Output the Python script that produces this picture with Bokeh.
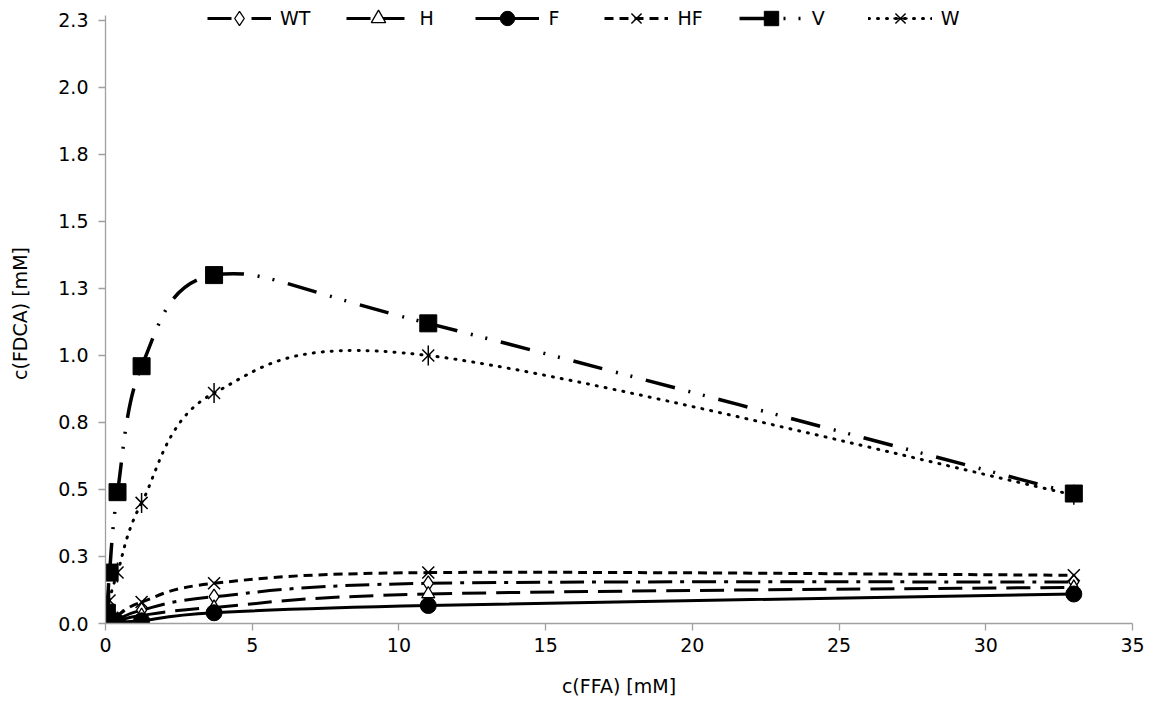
import math
from bokeh.plotting import figure
from bokeh.models import Range1d, Legend, LegendItem, FixedTicker, CustomJSTickFormatter
from bokeh.embed import file_html
from bokeh.resources import INLINE

# ---- data ----
ffa = [0.046, 0.137, 0.41, 1.23, 3.7, 11.0, 33.0]
wt = [0.0, 0.005, 0.015, 0.05, 0.10, 0.15, 0.155]
h = [0.0, 0.003, 0.01, 0.03, 0.06, 0.11, 0.135]
f = [0.0, 0.002, 0.005, 0.01, 0.04, 0.067, 0.11]
hf = [0.0, 0.01, 0.03, 0.08, 0.15, 0.19, 0.18]
v = [0.04, 0.19, 0.49, 0.96, 1.30, 1.12, 0.485]
w = [0.0, 0.086, 0.19, 0.45, 0.86, 1.00, 0.48]

series_names = ["WT", "H", "F", "HF", "V", "W"]
x_ticks = [0, 5, 10, 15, 20, 25, 30, 35]
y_ticks = [0.0, 0.25, 0.5, 0.75, 1.0, 1.25, 1.5, 1.75, 2.0, 2.25]
y_tick_labels = ["0.0", "0.3", "0.5", "0.8", "1.0", "1.3", "1.5", "1.8", "2.0", "2.3"]

FONT = "DejaVu Sans"
AXIS_COLOR = "#a0a0a0"


def bezier_data(xs, ys):
    """Control points of a smoothed (Catmull-Rom style) path through the data points."""
    n = len(xs)
    d = dict(x0=[], y0=[], x1=[], y1=[], cx0=[], cy0=[], cx1=[], cy1=[])
    for i in range(n - 1):
        im = i - 1 if i > 0 else i
        ip = i + 2 if i + 2 < n else i + 1
        d["x0"].append(xs[i]); d["y0"].append(ys[i])
        d["x1"].append(xs[i + 1]); d["y1"].append(ys[i + 1])
        d["cx0"].append(xs[i] + (xs[i + 1] - xs[im]) / 6.0)
        d["cy0"].append(ys[i] + (ys[i + 1] - ys[im]) / 6.0)
        d["cx1"].append(xs[i + 1] - (xs[ip] - xs[i]) / 6.0)
        d["cy1"].append(ys[i + 1] - (ys[ip] - ys[i]) / 6.0)
    return d


# frame: 620 px tall, 268 px per unit -> top of the range a little above 2.25 (room for legend)
p = figure(width=1145, height=703,
           x_range=Range1d(0, 35), y_range=Range1d(0, 2.3134),
           output_backend="svg", toolbar_location=None,
           min_border_left=105, min_border_right=13,
           min_border_top=3, min_border_bottom=80)
p.outline_line_color = None
p.grid.visible = False
p.background_fill_color = "white"

# axes
for ax in (p.xaxis[0], p.yaxis[0]):
    ax.axis_line_color = AXIS_COLOR
    ax.axis_line_width = 1.3
    ax.major_tick_line_color = AXIS_COLOR
    ax.major_tick_line_width = 1.3
    ax.major_tick_out = 7
    ax.major_tick_in = 0
    ax.minor_tick_line_color = None
    ax.major_label_text_font = FONT
    ax.major_label_text_font_size = "19px"
    ax.major_label_text_color = "#000000"
    ax.axis_label_text_font = FONT
    ax.axis_label_text_font_size = "19px"
    ax.axis_label_text_font_style = "normal"
    ax.axis_label_text_color = "#000000"

p.xaxis.ticker = FixedTicker(ticks=x_ticks)
p.xaxis.major_label_standoff = 7
p.xaxis.axis_label = "c(FFA) [mM]"
p.xaxis.axis_label_standoff = 20

p.yaxis.bounds = (0, 2.27)
p.yaxis.ticker = FixedTicker(ticks=y_ticks)
p.yaxis.formatter = CustomJSTickFormatter(
    args=dict(lbls=y_tick_labels, tvals=y_ticks),
    code="const i = tvals.findIndex(t => Math.abs(t - tick) < 1e-9); return i >= 0 ? lbls[i] : '';")
p.yaxis.major_label_standoff = 10
p.yaxis.axis_label = "c(FDCA) [mM]"
p.yaxis.axis_label_standoff = 24

styles = {
    "WT": dict(dash="24 8 4 8", width=3.0, cap="butt"),
    "H": dict(dash="24 10", width=3.0, cap="butt"),
    "F": dict(dash="solid", width=3.0, cap="butt"),
    "HF": dict(dash="9 6", width=3.0, cap="butt"),
    "V": dict(dash="30 14 2 13 2 14", width=3.5, cap="butt"),
    "W": dict(dash="1 8", width=3.0, cap="round"),
}
values = {"WT": wt, "H": h, "F": f, "HF": hf, "V": v, "W": w}

items = []
for name in series_names:
    ys = values[name]
    st = styles[name]
    bz = p.bezier(source=bezier_data(ffa, ys), x0="x0", y0="y0", x1="x1", y1="y1",
                  cx0="cx0", cy0="cy0", cx1="cx1", cy1="cy1",
                  line_color="black", line_width=st["width"], line_dash=st["dash"],
                  line_cap=st["cap"])
    rs = [bz]
    if name == "WT":
        rs.append(p.scatter(ffa, ys, marker="diamond", size=15, fill_color="white",
                            line_color="black", line_width=1.3))
    elif name == "H":
        rs.append(p.scatter(ffa, ys, marker="triangle", size=13, fill_color="white",
                            line_color="black", line_width=1.3))
    elif name == "F":
        rs.append(p.scatter(ffa, ys, marker="circle", size=16, fill_color="black",
                            line_color="black"))
    elif name == "HF":
        rs.append(p.scatter(ffa, ys, marker="x", size=17, line_color="black", line_width=1.5))
    elif name == "V":
        rs.append(p.scatter(ffa, ys, marker="square", size=17, fill_color="black",
                            line_color="black"))
    elif name == "W":
        rs.append(p.scatter(ffa, ys, marker="x", size=17, line_color="black", line_width=1.5))
        rs.append(p.scatter(ffa, ys, marker="dash", angle=math.pi / 2, size=20,
                            line_color="black", line_width=1.5))
    items.append(LegendItem(label=name, renderers=rs))

legend = Legend(items=items, orientation="horizontal", location=(102, 587),
                glyph_width=64, glyph_height=36, label_height=36,
                label_standoff=9, spacing=36, padding=0, margin=0,
                label_text_font=FONT, label_text_font_size="19px",
                label_text_color="#000000",
                background_fill_alpha=0, border_line_color=None)
p.add_layout(legend)

open("out.html", "w").write(file_html(p, INLINE))
